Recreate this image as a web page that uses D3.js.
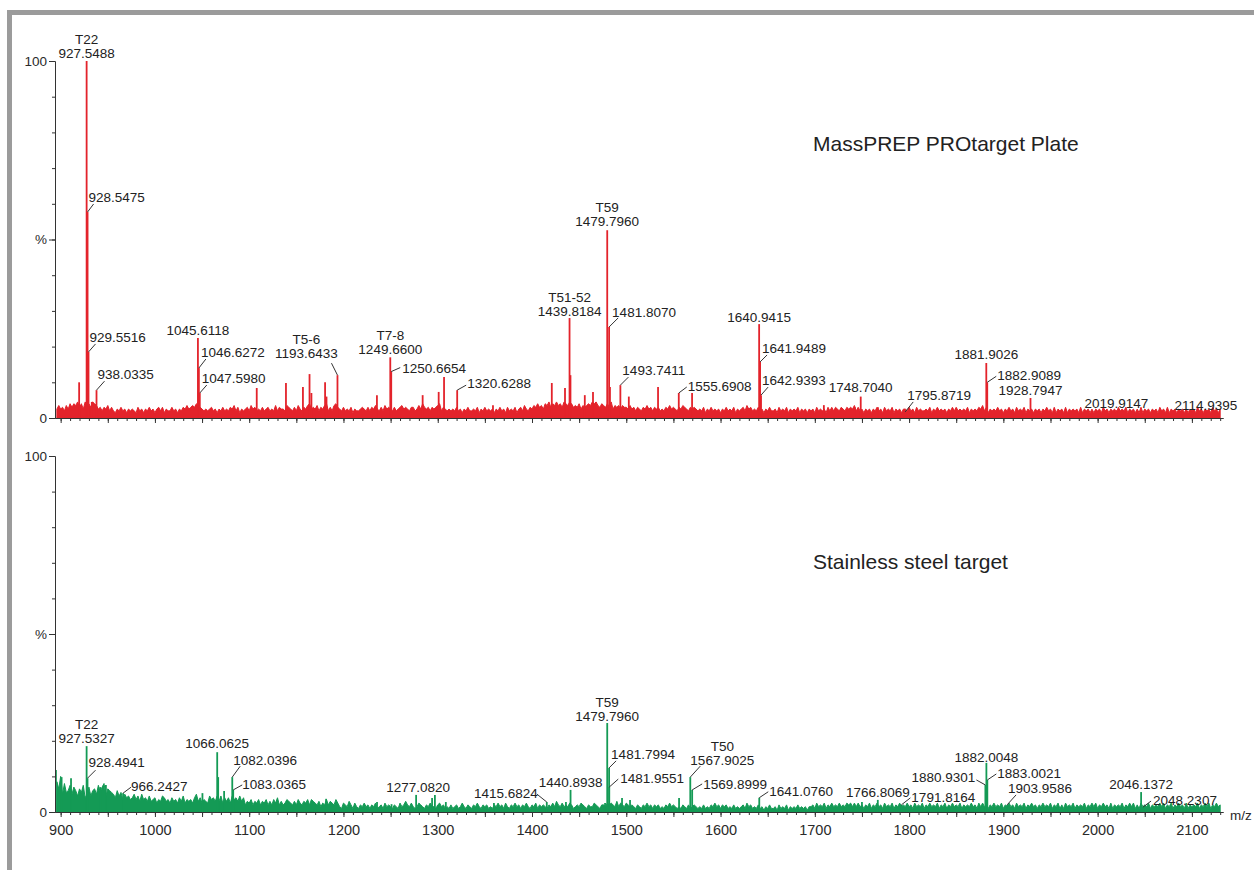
<!DOCTYPE html>
<html>
<head>
<meta charset="utf-8">
<script src="https://cdn.jsdelivr.net/npm/d3@7"></script>
<style>
  body { margin: 0; background: #fff; }
  svg { display: block; font-family: "Liberation Sans", Arial, sans-serif; }
</style>
</head>
<body>
<svg id="chart" width="1254" height="870"></svg>
<script>
// m/z axis
const mzDomain = [894, 2133]
const xTickLabels = [900, 1000, 1100, 1200, 1300, 1400, 1500, 1600, 1700, 1800, 1900, 2000, 2100]
const yTickLabels = [[0, "0"], [50, "%"], [100, "100"]]

// baseline noise, one char per 2 m/z starting at 896, base-36 level, 1 level = 0.5 %
const noiseStart = 896, noiseStep = 2
const topNoise = [
  "5756475868", "7968597869", "8756465746", "4354645354", "5436453546",  // 896-994
  "4535646354", "4645354657", "5676876545", "4564535464", "5465746354",  // 996-1094
  "5647564546", "4564547465", "5476546475", "4657856574", "6578464786",
  "5464546354", "4565464657", "5464756546", "4567565466", "4575865646",
  "5678465454", "5464535464", "4546354645", "4535464536", "4546356475",
  "4657686758", "7968797869", "8798676857", "6787989768", "7686957675",  // 1396-1494
  "7665756465", "4657564656", "4546575654", "6576546565", "4546354645",
  "4535464546", "3545647564", "5464535464", "4536454635", "4546354535",
  "4536454536", "4646546546", "5657464535", "4535464536", "4546354535",
  "5464536454", "4546354645", "4535464645", "4546354546", "5746354546",
  "4535464536", "4546354535", "4535464536", "3545363545", "4536354535",
  "3545364535", "4536454635", "4535363545", "3545364536", "3545354535",
  "3545364535", "45364535"
].join("")
const bottomNoise = [
  "hdkagbcfae", "c9dbf8ae9c", "dafbeg9dcb", "a8c9b7a897", "8a796a7869",  // 896-994
  "6785769867", "5867586957", "6758a68576", "5978696958", "6859786968",
  "4657465746", "5746475846", "4576546475", "4657476546", "3547465475",
  "3254364253", "2435342435", "2342534324", "3253464353", "2354324353",
  "3245342324", "2342353243", "2435324342", "3243534253", "2435342435",
  "3243524343", "2435364353", "4354234354", "3243354324", "4354543635",
  "4354343243", "2435342434", "2324353432", "3243242343", "2324232435",
  "3424342324", "2323425342", "3242313242", "2314232413", "2324232313",
  "3425343524", "3534353435", "4535353424", "3524353425", "3435243534",
  "3534253435", "2435343524", "3524353435", "2434353425", "3534243534",
  "3524353425", "3435243534", "2435343524", "3524253435", "2434352435",
  "3524353425", "2434352435", "3524253435", "2434353524", "3524353425",
  "2434352435", "35243534"
].join("")

// unlabelled peaks [m/z, %]
const topMinor = [[919.6, 10], [933, 4.5], [1108, 8.4], [1139, 9.8], [1157, 8.7], [1164, 12.3], [1166, 7],
  [1180.5, 10], [1182, 6], [1235.5, 6.4], [1284, 6.4], [1301, 7.3], [1306.7, 11.5], [1358.6, 3.6],
  [1421, 9.8], [1435, 8.4], [1440.8, 12], [1456, 6.4], [1464.7, 7.3], [1482.7, 8.7], [1502.7, 6],
  [1533.7, 8.7], [1569.8, 7], [1709.6, 3.6], [1742.5, 3], [1767, 3], [1897, 2.2]]
const bottomMinor = [[895, 11.8], [901, 9.8], [911, 9.5], [942, 7], [948, 7.6], [1050.4, 5.3], [1067.1, 9.8],
  [1073.4, 5.9], [1181.6, 3.7], [1235.6, 2.8], [1251, 2.2], [1294, 3.9], [1297, 4.8], [1308.6, 2.8],
  [1359.6, 2.5], [1436, 2.8], [1477.5, 2.5], [1495.5, 3.9], [1504, 3.4], [1556, 3.9], [1750, 2.8],
  [1840, 1.4], [1929, 2]]

// labelled peaks
const topPeaks = [
  { mz: 927.5488, pct: 100, text: ["T22", "927.5488"] },
  { mz: 928.5475, pct: 57.7, text: ["928.5475"] },
  { mz: 929.5516, pct: 18.5, text: ["929.5516"] },
  { mz: 938.0335, pct: 7.8, text: ["938.0335"] },
  { mz: 1045.6118, pct: 22.4, text: ["1045.6118"] },
  { mz: 1046.6272, pct: 14, text: ["1046.6272"] },
  { mz: 1047.5980, pct: 7, text: ["1047.5980"] },
  { mz: 1193.6433, pct: 12, text: ["T5-6", "1193.6433"] },
  { mz: 1249.6600, pct: 17, text: ["T7-8", "1249.6600"] },
  { mz: 1250.6654, pct: 13, text: ["1250.6654"] },
  { mz: 1320.6288, pct: 7.8, text: ["1320.6288"] },
  { mz: 1439.8184, pct: 28, text: ["T51-52", "1439.8184"] },
  { mz: 1479.7960, pct: 52.6, text: ["T59", "1479.7960"] },
  { mz: 1481.8070, pct: 25.5, text: ["1481.8070"] },
  { mz: 1493.7411, pct: 9.2, text: ["1493.7411"] },
  { mz: 1555.6908, pct: 7, text: ["1555.6908"] },
  { mz: 1640.9415, pct: 26.3, text: ["1640.9415"] },
  { mz: 1641.9489, pct: 15.7, text: ["1641.9489"] },
  { mz: 1642.9393, pct: 6.4, text: ["1642.9393"] },
  { mz: 1748.7040, pct: 6, text: ["1748.7040"] },
  { mz: 1795.8719, pct: 1.7, text: ["1795.8719"] },
  { mz: 1881.9026, pct: 15.4, text: ["1881.9026"] },
  { mz: 1882.9089, pct: 10, text: ["1882.9089"] },
  { mz: 1928.7947, pct: 5.6, text: ["1928.7947"] },
  { mz: 2019.9147, pct: 2.2, text: ["2019.9147"] },
  { mz: 2114.9395, pct: 1.7, text: ["2114.9395"] }
]
const bottomPeaks = [
  { mz: 927.5327, pct: 18.5, text: ["T22", "927.5327"] },
  { mz: 928.4941, pct: 9.5, text: ["928.4941"] },
  { mz: 966.2427, pct: 5.3, text: ["966.2427"] },
  { mz: 1066.0625, pct: 16.8, text: ["1066.0625"] },
  { mz: 1082.0396, pct: 9.8, text: ["1082.0396"] },
  { mz: 1083.0365, pct: 6.2, text: ["1083.0365"] },
  { mz: 1277.0820, pct: 4.8, text: ["1277.0820"] },
  { mz: 1415.6824, pct: 2.8, text: ["1415.6824"] },
  { mz: 1440.8938, pct: 6.2, text: ["1440.8938"] },
  { mz: 1479.7960, pct: 25, text: ["T59", "1479.7960"] },
  { mz: 1481.7994, pct: 12.4, text: ["1481.7994"] },
  { mz: 1481.9551, pct: 7, text: ["1481.9551"] },
  { mz: 1567.9025, pct: 9.8, text: ["T50", "1567.9025"] },
  { mz: 1569.8999, pct: 6.2, text: ["1569.8999"] },
  { mz: 1641.0760, pct: 4, text: ["1641.0760"] },
  { mz: 1766.8069, pct: 3.4, text: ["1766.8069"] },
  { mz: 1791.8164, pct: 2, text: ["1791.8164"] },
  { mz: 1882.0048, pct: 13.8, text: ["1882.0048"] },
  { mz: 1880.9301, pct: 7.6, text: ["1880.9301"] },
  { mz: 1883.0021, pct: 9, text: ["1883.0021"] },
  { mz: 1903.9586, pct: 2, text: ["1903.9586"] },
  { mz: 2046.1372, pct: 5.6, text: ["2046.1372"] },
  { mz: 2048.2307, pct: 1.4, text: ["2048.2307"] }
]

// label placement relative to peak top: [dx, dy(baseline), anchor, leaderX, leaderY]
const topPlace = [
  [0, -3, "middle"], [1, -10, "start", 6, -8], [1, -10, "start", 7, -8], [1, -11, "start", 8, -9],
  [0, -3, "middle"], [2, -11, "start", 7, -9], [2, -10, "start", 7, -8],
  [-31, -17, "middle", -6, -12], [0, -3, "middle"], [11, 1, "start", 9, -4], [10, -2, "start", 9, -5],
  [0, -2, "middle"], [0, -4, "middle"], [3, -10, "start", 9, -9], [2, -10, "start", 8, -8],
  [9, -2, "start", 8, -6], [0, -2, "middle"], [2, -9, "start", 7, -7], [1, -10, "start", 7, -8],
  [0, -5, "middle"], [2, -12, "start", 8, -10], [0, -4, "middle"], [10, -2, "start", 9, -6],
  [0, -3, "middle"], [0, -2, "middle"], [0, -2, "middle"]
]
const bottomPlace = [
  [0, -3, "middle"], [1, -11, "start", 8, -8], [8, -2, "start", 8, -6], [0, -4, "middle"],
  [1, -12, "start", 8, -11], [9, -1, "start", 9, -5], [2, -3, "middle"], [-9, -4, "end", -10, -8],
  [0, -3, "middle"], [0, -2, "middle"], [2, -9, "start", 7, -7], [11, -4, "start", 9, -8],
  [32, -12, "middle", 10, -11], [11, -1, "start", 10, -6], [10, -2, "start", 9, -6],
  [0, -3, "middle"], [10, -3, "start", 9, -7], [0, -1, "middle"], [-10, -3, "end", -9, -5],
  [10, -2, "start", 9, -6], [1, -12, "start", 9, -10], [0, -3, "middle"], [10, -2, "start", 8, -6]
]

const svg = d3.select("#chart")
const x = d3.scaleLinear().domain(mzDomain).range([55, 1223])

// grey frame
svg.append("rect").attr("x", 7).attr("y", 10).attr("width", 1247).attr("height", 5).attr("fill", "#9b9b9b")
svg.append("rect").attr("x", 7).attr("y", 10).attr("width", 5).attr("height", 860).attr("fill", "#9b9b9b")

const drawPanel = (cfg) => {
  const y = d3.scaleLinear().domain([0, 100]).range([cfg.bottom, cfg.top])
  const g = svg.append("g")

  const noise = cfg.noise.split("").map((c, i) => ({ mz: noiseStart + i * noiseStep, v: parseInt(c, 36) * 0.5 }))
  g.append("path")
    .datum(noise)
    .attr("fill", cfg.color)
    .attr("stroke", cfg.color)
    .attr("stroke-width", 1)
    .attr("d", d3.area().x(d => x(d.mz)).y0(y(0)).y1(d => y(d.v)))

  const sticks = cfg.minor.map(d => ({ mz: d[0], pct: d[1] })).concat(cfg.peaks)
  g.selectAll(".stick")
    .data(sticks)
    .join("line")
    .attr("x1", d => x(d.mz)).attr("x2", d => x(d.mz))
    .attr("y1", y(0)).attr("y2", d => y(d.pct))
    .attr("stroke", cfg.color)
    .attr("stroke-width", 1.8)

  // axes
  const xa = g.append("g").attr("transform", `translate(0,${y(0)})`)
  xa.call(d3.axisBottom(x).tickValues(d3.range(900, 2131, 10)).tickSize(3).tickSizeOuter(0).tickFormat(""))
  xa.append("g").call(d3.axisBottom(x).tickValues(d3.range(900, 2131, 50)).tickSize(5).tickSizeOuter(0)
    .tickFormat(d => cfg.xLabels && xTickLabels.includes(d) ? d : ""))
  xa.selectAll("path, line").attr("stroke", "#333")
  xa.selectAll("text").attr("fill", "#2a2a2a").attr("font-size", 14.5).attr("font-family", null).attr("dy", "1.05em")

  const ya = g.append("g").attr("transform", `translate(55,0)`)
  ya.call(d3.axisLeft(y).tickValues(d3.range(0, 101, 10)).tickSize(3).tickSizeOuter(0).tickFormat(""))
  ya.append("g").call(d3.axisLeft(y).tickValues(yTickLabels.map(d => d[0])).tickSize(6).tickSizeOuter(0)
    .tickPadding(2).tickFormat(d => yTickLabels.find(t => t[0] === d)[1]))
  ya.selectAll("path, line").attr("stroke", "#333")
  ya.selectAll("text").attr("fill", "#2a2a2a").attr("font-size", 13.5).attr("font-family", null)

  // peak labels
  cfg.peaks.forEach((d, i) => {
    const p = cfg.place[i]
    const px = x(d.mz), py = y(d.pct)
    if (p.length > 3) {
      g.append("line")
        .attr("x1", px).attr("y1", py)
        .attr("x2", px + p[3]).attr("y2", py + p[4])
        .attr("stroke", "#333").attr("stroke-width", 1)
    }
    d.text.forEach((s, j) => {
      g.append("text")
        .attr("x", px + p[0])
        .attr("y", py + p[1] - 14 * (d.text.length - 1 - j))
        .attr("text-anchor", p[2])
        .attr("font-size", 13.5)
        .attr("fill", "#222")
        .text(s)
    })
  })

  g.append("text")
    .attr("x", 813).attr("y", cfg.titleY)
    .attr("font-size", 21).attr("fill", "#222")
    .text(cfg.title)
}

drawPanel({ top: 61, bottom: 418, color: "#e3232b", noise: topNoise, minor: topMinor, peaks: topPeaks,
  place: topPlace, title: "MassPREP PROtarget Plate", titleY: 151, xLabels: false })
drawPanel({ top: 456, bottom: 812, color: "#149a55", noise: bottomNoise, minor: bottomMinor, peaks: bottomPeaks,
  place: bottomPlace, title: "Stainless steel target", titleY: 569, xLabels: true })

svg.append("text").attr("x", 1230).attr("y", 820).attr("font-size", 13.5).attr("fill", "#2a2a2a").text("m/z")
</script>
</body>
</html>
